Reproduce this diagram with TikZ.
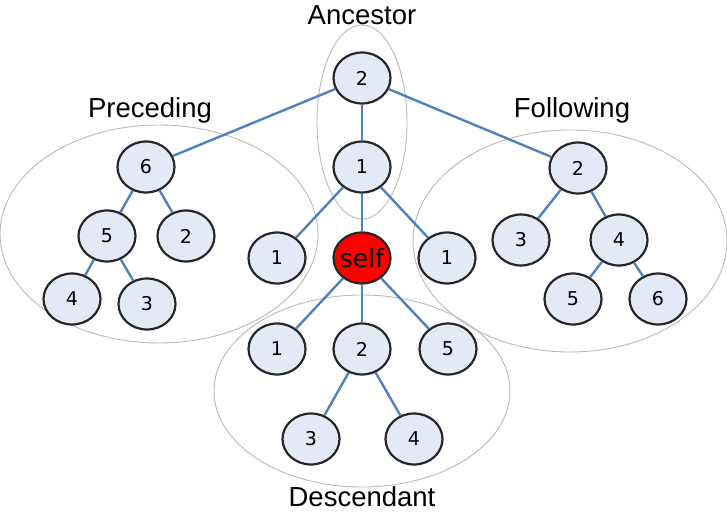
\documentclass[tikz,border=0pt]{standalone}
\usepackage{fontspec}
\setmainfont{Liberation Sans}
\newfontfamily\dvfont{DejaVu Sans}
\usetikzlibrary{shapes.geometric}
\definecolor{edgeblue}{RGB}{79,129,189}
\definecolor{nodefill}{RGB}{228,234,245}
\definecolor{grpgray}{RGB}{185,185,185}
\tikzset{
  tnode/.style={ellipse, draw=black!85, line width=2.2bp, fill=nodefill,
    minimum width=57bp, minimum height=51bp, inner sep=0pt,
    font=\dvfont\fontsize{19bp}{19bp}\selectfont},
  selfnode/.style={tnode, fill=red, inner xsep=-5bp, font=\dvfont\fontsize{25bp}{25bp}\selectfont},
  tedge/.style={draw=edgeblue, line width=2.4bp},
  grp/.style={draw=grpgray, line width=0.9bp},
  grplabel/.style={anchor=base, inner sep=0pt, font=\fontsize{27.5bp}{27.5bp}\selectfont}
}
\begin{document}
\begin{tikzpicture}[x=1bp, y=-1bp]
\useasboundingbox (0,0) rectangle (727,525);
% groups
\draw[grp] (159,234) ellipse [x radius=159, y radius=109];
\draw[grp] (570,241) ellipse [x radius=157, y radius=111];
\draw[grp] (362,391) ellipse [x radius=148, y radius=96];
\draw[grp] (362,122) ellipse [x radius=45, y radius=97];
% labels
\node[grplabel] (lanc) at (362,25) {Ancestor};
\node[grplabel] (lpre) at (150,118) {Preceding};
\node[grplabel] (lfol) at (572,118) {Following};
\node[grplabel] (ldes) at (362,506) {Descendant};
% nodes
\node[tnode] (a2) at (362,78) {2};
\node[tnode] (a1) at (362,167) {1};
\node[selfnode] (self) at (362,258) {self};
\node[tnode] (s1l) at (277,258) {1};
\node[tnode] (s1r) at (447,258) {1};
% preceding
\node[tnode] (p6) at (146,167) {6};
\node[tnode] (p5) at (107,236) {5};
\node[tnode] (p2) at (186,236) {2};
\node[tnode] (p4) at (72,299) {4};
\node[tnode] (p3) at (147,304) {3};
% following
\node[tnode] (f2) at (578,168) {2};
\node[tnode] (f3) at (521,240) {3};
\node[tnode] (f4) at (619,240) {4};
\node[tnode] (f5) at (573,299) {5};
\node[tnode] (f6) at (658,299) {6};
% descendant
\node[tnode] (d1) at (277,349) {1};
\node[tnode] (d2) at (362,349) {2};
\node[tnode] (d5) at (448,349) {5};
\node[tnode] (d3) at (311,439) {3};
\node[tnode] (d4) at (414,439) {4};
% edges
\draw[tedge] (a2) -- (a1);
\draw[tedge] (a2) -- (p6);
\draw[tedge] (a2) -- (f2);
\draw[tedge] (a1) -- (self);
\draw[tedge] (a1) -- (s1l);
\draw[tedge] (a1) -- (s1r);
\draw[tedge] (self) -- (d1);
\draw[tedge] (self) -- (d2);
\draw[tedge] (self) -- (d5);
\draw[tedge] (d2) -- (d3);
\draw[tedge] (d2) -- (d4);
\draw[tedge] (p6) -- (p5);
\draw[tedge] (p6) -- (p2);
\draw[tedge] (p5) -- (p4);
\draw[tedge] (p5) -- (p3);
\draw[tedge] (f2) -- (f3);
\draw[tedge] (f2) -- (f4);
\draw[tedge] (f4) -- (f5);
\draw[tedge] (f4) -- (f6);
\end{tikzpicture}
\end{document}
